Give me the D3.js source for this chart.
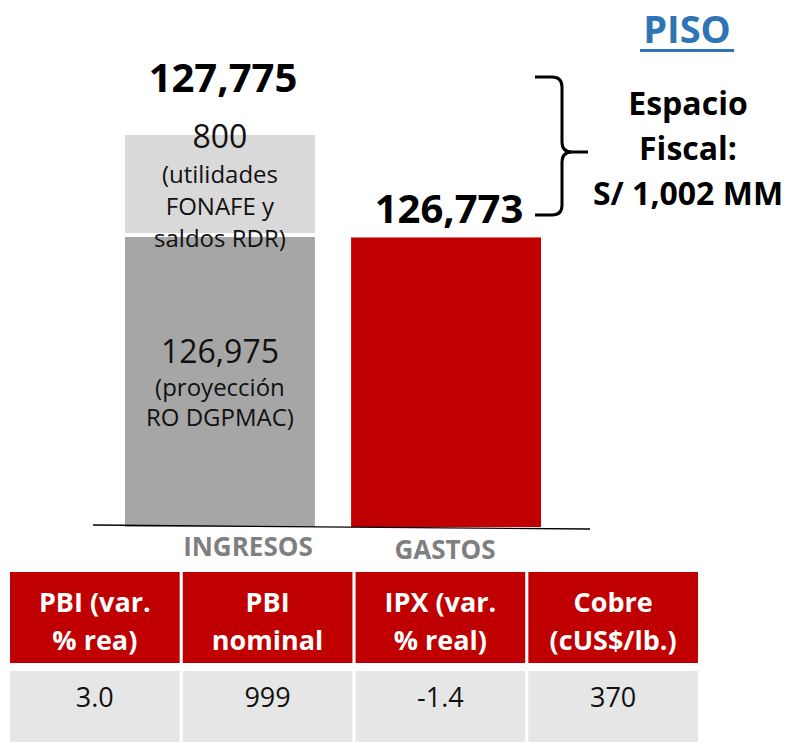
<!DOCTYPE html>
<html>
<head>
<meta charset="utf-8">
<script src="https://cdn.jsdelivr.net/npm/d3@7"></script>
<style>
  body { margin: 0; background: #fff; }
  text { font-family: "Open Sans", sans-serif; }
</style>
</head>
<body>
<div id="chart"></div>
<script>
// data
let categories = ["INGRESOS", "GASTOS"];
let ingresosParts = [126975, 800];
let ingresosNotes = [
  ["(proyección", "RO DGPMAC)"],
  ["(utilidades", "FONAFE y", "saldos RDR)"]
];
let gastosValue = 126773;

let tableHeaders = [["PBI (var.", "% rea)"], ["PBI", "nominal"], ["IPX (var.", "% real)"], ["Cobre", "(cUS$/lb.)"]];
let tableValues = ["3.0", "999", "-1.4", "370"];

function getConfig() {
  let width = 798;
  let height = 742;
  let baseline = 527;
  let container = d3.select("#chart")
    .append("svg")
    .attr("width", width)
    .attr("height", height);
  return {width, height, baseline, container};
}

function getScales(config) {
  let total = d3.sum(ingresosParts);
  // the slide uses a broken axis, so the scale is piecewise
  let yScale = d3.scaleLinear()
    .domain([0, ingresosParts[0], total])
    .range([config.baseline, 237, 135]);
  let xScale = d3.scaleBand()
    .domain(categories)
    .range([125, 541])
    .paddingInner(0.16);
  return {xScale, yScale};
}

function drawBars(config, scales) {
  let {container, baseline} = config;
  let {xScale, yScale} = scales;
  let fmt = d3.format(",");

  // stacked ingresos
  let stack = [];
  let acc = 0;
  ingresosParts.forEach((v, i) => {
    stack.push({y0: acc, y1: acc + v, value: v, notes: ingresosNotes[i], i: i});
    acc += v;
  });
  let partColors = ["#a6a6a6", "#d9d9d9"];

  container.selectAll("rect.ing")
    .data(stack)
    .enter()
    .append("rect")
    .attr("class", "ing")
    .attr("x", xScale("INGRESOS"))
    .attr("width", xScale.bandwidth())
    .attr("y", d => yScale(d.y1))
    .attr("height", d => yScale(d.y0) - yScale(d.y1) - (d.i == 0 ? 0 : 4))
    .attr("fill", d => partColors[d.i]);

  container.append("rect")
    .attr("x", xScale("GASTOS"))
    .attr("width", xScale.bandwidth())
    .attr("y", yScale(gastosValue))
    .attr("height", baseline - yScale(gastosValue))
    .attr("fill", "#c00000");

  // labels inside the ingresos segments
  let cx = xScale("INGRESOS") + xScale.bandwidth() / 2;
  let bottomSeg = container.append("text").attr("text-anchor", "middle").attr("fill", "#111");
  bottomSeg.append("tspan").attr("x", cx).attr("y", 363).attr("font-size", 32).text(fmt(ingresosParts[0]));
  ingresosNotes[0].forEach((t, k) => {
    bottomSeg.append("tspan").attr("x", cx).attr("y", 396 + k * 30).attr("font-size", 24).text(t);
  });
  let topSeg = container.append("text").attr("text-anchor", "middle").attr("fill", "#111");
  topSeg.append("tspan").attr("x", cx).attr("y", 148).attr("font-size", 32).text(fmt(ingresosParts[1]));
  ingresosNotes[1].forEach((t, k) => {
    topSeg.append("tspan").attr("x", cx).attr("y", 183 + k * 32).attr("font-size", 24).text(t);
  });

  // totals above the bars
  let total = d3.sum(ingresosParts);
  container.append("text")
    .attr("x", cx + 3)
    .attr("y", 92)
    .attr("text-anchor", "middle")
    .attr("font-size", 40)
    .attr("font-weight", "bold")
    .text(fmt(total));
  container.append("text")
    .attr("x", xScale("GASTOS") + xScale.bandwidth() / 2 + 3)
    .attr("y", 223)
    .attr("text-anchor", "middle")
    .attr("font-size", 40)
    .attr("font-weight", "bold")
    .text(fmt(gastosValue));

  // baseline (slightly tilted on the slide)
  container.append("line")
    .attr("x1", 93).attr("y1", 525)
    .attr("x2", 590).attr("y2", 529)
    .attr("stroke", "#000")
    .attr("stroke-width", 1.3);

  // category labels
  let catOffsets = {INGRESOS: [28, 556], GASTOS: [-1, 559]};
  container.selectAll("text.cat")
    .data(categories)
    .enter()
    .append("text")
    .attr("class", "cat")
    .attr("x", d => xScale(d) + xScale.bandwidth() / 2 + catOffsets[d][0])
    .attr("y", d => catOffsets[d][1])
    .attr("text-anchor", "middle")
    .attr("font-size", 26)
    .attr("font-weight", "bold")
    .attr("fill", "#7f7f7f")
    .text(d => d);
}

function drawAnnotation(config) {
  let {container} = config;
  let fmt = d3.format(",");
  let espacio = d3.sum(ingresosParts) - gastosValue;

  // curly bracket
  container.append("path")
    .attr("d", "M535,77 L552,77 Q562,77 562,87 L562,142 Q562,152 572,152 L588,152 M572,152 Q562,152 562,162 L562,205 Q562,215 552,215 L535,215")
    .attr("fill", "none")
    .attr("stroke", "#000")
    .attr("stroke-width", 3);

  // title
  container.append("text")
    .attr("x", 687)
    .attr("y", 43)
    .attr("text-anchor", "middle")
    .attr("font-size", 38)
    .attr("font-weight", "bold")
    .attr("fill", "#2e75b6")
    .text("PISO");
  container.append("rect")
    .attr("x", 640).attr("y", 49)
    .attr("width", 94).attr("height", 3)
    .attr("fill", "#2e75b6");

  let lines = ["Espacio", "Fiscal:", "S/ " + fmt(espacio) + " MM"];
  container.selectAll("text.esp")
    .data(lines)
    .enter()
    .append("text")
    .attr("class", "esp")
    .attr("x", 688)
    .attr("y", (d, i) => 115 + i * 45)
    .attr("text-anchor", "middle")
    .attr("font-size", 32)
    .attr("font-weight", "bold")
    .text(d => d);
}

function drawTable(config) {
  let {container} = config;
  let colScale = d3.scaleBand()
    .domain(d3.range(tableValues.length))
    .range([10, 698])
    .paddingInner(0.018);

  let cols = container.selectAll("g.col")
    .data(d3.range(tableValues.length))
    .enter()
    .append("g")
    .attr("class", "col")
    .attr("transform", d => "translate(" + colScale(d) + ",0)");

  cols.append("rect")
    .attr("y", 572).attr("height", 91)
    .attr("width", colScale.bandwidth())
    .attr("fill", "#c00000");
  cols.append("rect")
    .attr("y", 671).attr("height", 71)
    .attr("width", colScale.bandwidth())
    .attr("fill", "#e6e6e6");

  let head = cols.append("text")
    .attr("text-anchor", "middle")
    .attr("font-size", 27)
    .attr("font-weight", "bold")
    .attr("fill", "#fff");
  head.selectAll("tspan")
    .data(d => tableHeaders[d])
    .enter()
    .append("tspan")
    .attr("x", colScale.bandwidth() / 2)
    .attr("y", (d, i) => 612 + i * 38)
    .text(d => d);

  cols.append("text")
    .attr("x", colScale.bandwidth() / 2)
    .attr("y", 707)
    .attr("text-anchor", "middle")
    .attr("font-size", 27)
    .attr("fill", "#111")
    .text(d => tableValues[d]);
}

let config = getConfig();
let scales = getScales(config);
drawBars(config, scales);
drawAnnotation(config);
drawTable(config);
</script>
</body>
</html>
